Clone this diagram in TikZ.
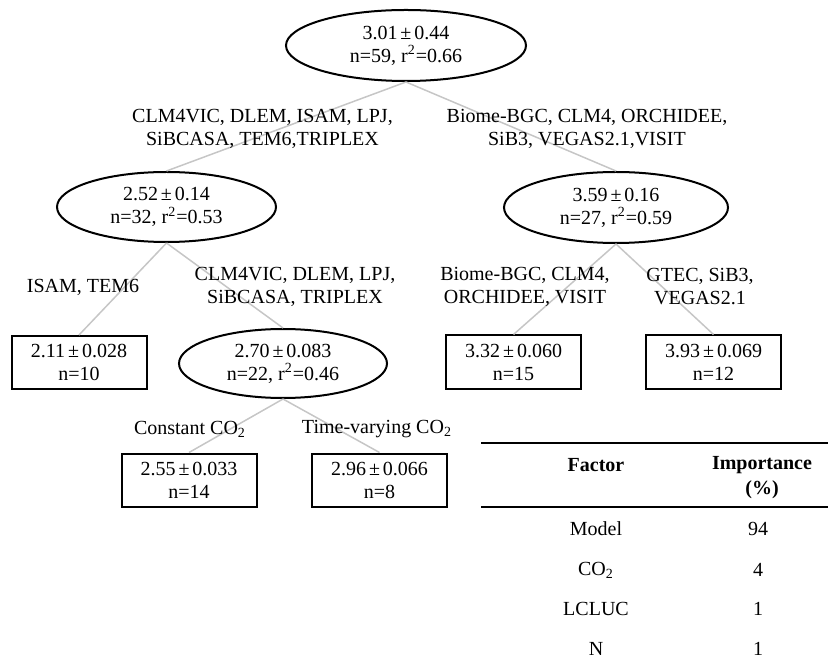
\documentclass[tikz,border=0pt]{standalone}
\usepackage{fontspec}
\setmainfont{Liberation Serif}
\usetikzlibrary{shapes.geometric}

\newcommand{\vpm}{\kern1.5pt±\kern1.5pt}
\newcommand{\cotwo}{CO\textsubscript{2}}

\begin{document}
\begin{tikzpicture}[
  x=0.5pt, y=-0.5pt,
  txt/.style={font=\fontsize{10pt}{11.5pt}\selectfont, align=center, inner sep=0pt},
  split/.style={txt, draw, ellipse, line width=1pt},
  leaf/.style={txt, draw, rectangle, line width=1pt,
               minimum width=67.5pt, minimum height=26.5pt},
  edge/.style={draw=gray!45, line width=0.75pt},
  hdr/.style={txt, font=\fontsize{10pt}{12.5pt}\selectfont\bfseries},
  rule/.style={line width=0.6pt},
]
\useasboundingbox (0,0) rectangle (828,667);

% --- Split nodes (ellipses) ---
\node[split, minimum width=120pt, minimum height=35.5pt] (root) at (406,45.5)
    {3.01\vpm0.44\\n=59, r\textsuperscript{2}=0.66};
\node[split, minimum width=109.5pt, minimum height=35pt] (L) at (166.5,207)
    {2.52\vpm0.14\\n=32, r\textsuperscript{2}=0.53};
\node[split, minimum width=112pt, minimum height=35.5pt] (R) at (616,207.5)
    {3.59\vpm0.16\\n=27, r\textsuperscript{2}=0.59};
\node[split, minimum width=104pt, minimum height=34.5pt] (LR) at (283,363.5)
    {2.70\vpm0.083\\n=22, r\textsuperscript{2}=0.46};

% --- Terminal nodes (boxes) ---
\node[leaf] (LL)  at (79,362.5)   {2.11\vpm0.028\\n=10};
\node[leaf] (RL)  at (513.5,362)  {3.32\vpm0.060\\n=15};
\node[leaf] (RR)  at (713.5,362)  {3.93\vpm0.069\\n=12};
\node[leaf] (LRL) at (189,480)    {2.55\vpm0.033\\n=14};
\node[leaf] (LRR) at (379.5,480)  {2.96\vpm0.066\\n=8};

% --- Branches ---
\draw[edge] (root.south) -- (L.north);
\draw[edge] (root.south) -- (R.north);
\draw[edge] (L.south) -- (LL.north);
\draw[edge] (L.south) -- (LR.north);
\draw[edge] (R.south) -- (RL.north);
\draw[edge] (R.south) -- (RR.north);
\draw[edge] (LR.south) -- (LRL.north);
\draw[edge] (LR.south) -- (LRR.north);

% --- Branch labels ---
\node[txt] (lbL)   at (262.5,128.5) {CLM4VIC, DLEM, ISAM, LPJ,\\SiBCASA, TEM6,TRIPLEX};
\node[txt] (lbR)   at (587,128.5)   {Biome-BGC, CLM4, ORCHIDEE,\\SiB3, VEGAS2.1,VISIT};
\node[txt] (lbLL)  at (83,287)      {ISAM, TEM6};
\node[txt] (lbLR)  at (295,286.5)   {CLM4VIC, DLEM, LPJ,\\SiBCASA, TRIPLEX};
\node[txt] (lbRL)  at (525,286.5)   {Biome-BGC, CLM4,\\ORCHIDEE, VISIT};
\node[txt] (lbRR)  at (700,286.5)   {GTEC, SiB3,\\VEGAS2.1};
\node[txt] (lbLRL) at (190,429)     {Constant \cotwo};
\node[txt] (lbLRR) at (377,429)     {Time-varying \cotwo};

% --- Importance table ---
\coordinate (top w) at (481,443);
\coordinate (top e) at (828,443);
\coordinate (mid w) at (481,507);
\coordinate (mid e) at (828,507);
\draw[rule] (top w) -- (top e);
\draw[rule] (mid w) -- (mid e);

\node[hdr] (hF) at (596,465)   {Factor};
\node[hdr] (hI) at (762,477.5) {Importance\\(\%)};

\node[txt] (fModel) at (596,529) {Model};
\node[txt] (fCO)    at (596,570) {\cotwo};
\node[txt] (fLC)    at (596,609) {LCLUC};
\node[txt] (fN)     at (596,649) {N};
\node[txt] (vModel) at (758,529) {94};
\node[txt] (vCO)    at (758,570) {4};
\node[txt] (vLC)    at (758,609) {1};
\node[txt] (vN)     at (758,649) {1};
\end{tikzpicture}
\end{document}
